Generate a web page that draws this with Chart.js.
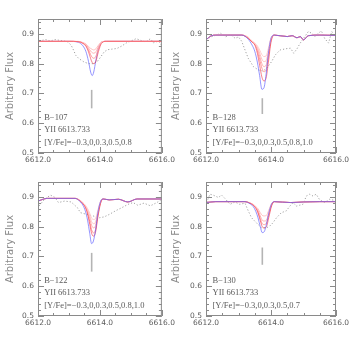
<!DOCTYPE html>
<html>
<head>
<meta charset="utf-8">
<script src="https://cdn.jsdelivr.net/npm/chart.js@4.4.1/dist/chart.umd.min.js"></script>
<style>
body { margin: 0; background: #fff; }
#wrap { position: relative; width: 354px; height: 354px; overflow: hidden; }
canvas { position: absolute; }
</style>
</head>
<body>
<div id="wrap">
<canvas id="p107" width="178" height="177" style="left:0px;top:0px"></canvas>
<canvas id="p128" width="188" height="177" style="left:166px;top:0px"></canvas>
<canvas id="p122" width="178" height="177" style="left:0px;top:163px"></canvas>
<canvas id="p130" width="188" height="177" style="left:166px;top:163px"></canvas>
</div>
<script>
// star names and abundances tried in each synthesis
const stars = ['B\u2212107', 'B\u2212128', 'B\u2212122', 'B\u2212130'];
const lineLabel = 'YII 6613.733';
const lineCenter = 6613.733;
const abund107 = ['\u22120.3', '0', '0.3', '0.5', '0.8'];
const abund128 = ['\u22120.3', '0', '0.3', '0.5', '0.8', '1.0'];
const abund122 = ['\u22120.3', '0', '0.3', '0.5', '0.8', '1.0'];
const abund130 = ['\u22120.3', '0', '0.3', '0.5', '0.7'];

// axis ticks
const xTicks = [6612, 6614, 6616];
const yTicks = [0.5, 0.6, 0.7, 0.8, 0.9];

// observed spectra
const obsWave107 = [6612.04, 6612.25, 6612.4, 6612.55, 6612.71, 6612.86, 6612.96, 6613.07, 6613.15, 6613.22, 6613.32, 6613.48, 6613.63, 6613.78, 6613.94, 6614.04, 6614.14, 6614.25, 6614.4, 6614.55, 6614.7, 6614.86, 6615.0, 6615.17, 6615.32, 6615.48, 6615.63, 6615.73, 6615.89, 6615.99];
const obsFlux107 = [0.876, 0.881, 0.876, 0.881, 0.878, 0.876, 0.873, 0.862, 0.845, 0.828, 0.817, 0.806, 0.800, 0.800, 0.810, 0.825, 0.840, 0.847, 0.849, 0.851, 0.859, 0.870, 0.876, 0.884, 0.878, 0.873, 0.884, 0.870, 0.876, 0.862];

const obsWave128 = [6612.0, 6612.15, 6612.3, 6612.45, 6612.6, 6612.75, 6612.9, 6613.0, 6613.1, 6613.2, 6613.3, 6613.46, 6613.61, 6613.75, 6613.87, 6614.02, 6614.13, 6614.28, 6614.45, 6614.6, 6614.7, 6614.8, 6614.9, 6615.0, 6615.15, 6615.25, 6615.35, 6615.45, 6615.55, 6615.65, 6615.77, 6615.87, 6615.97];
const obsFlux128 = [0.880, 0.890, 0.895, 0.902, 0.890, 0.898, 0.885, 0.890, 0.875, 0.846, 0.818, 0.790, 0.779, 0.775, 0.785, 0.807, 0.829, 0.846, 0.850, 0.852, 0.835, 0.850, 0.869, 0.885, 0.908, 0.902, 0.891, 0.902, 0.910, 0.885, 0.869, 0.908, 0.891];

const obsWave122 = [6612.04, 6612.19, 6612.4, 6612.55, 6612.66, 6612.86, 6613.07, 6613.27, 6613.37, 6613.58, 6613.78, 6613.99, 6614.14, 6614.3, 6614.5, 6614.71, 6614.91, 6615.07, 6615.22, 6615.42, 6615.63, 6615.84, 6615.99];
const obsFlux122 = [0.870, 0.890, 0.906, 0.898, 0.881, 0.886, 0.883, 0.864, 0.847, 0.841, 0.836, 0.830, 0.833, 0.841, 0.853, 0.864, 0.875, 0.881, 0.872, 0.879, 0.870, 0.881, 0.892];

const obsWave130 = [6612.02, 6612.12, 6612.22, 6612.38, 6612.48, 6612.58, 6612.74, 6612.89, 6613.04, 6613.2, 6613.3, 6613.4, 6613.55, 6613.71, 6613.86, 6613.96, 6614.06, 6614.17, 6614.32, 6614.47, 6614.58, 6614.68, 6614.78, 6614.88, 6614.98, 6615.09, 6615.19, 6615.29, 6615.39, 6615.5, 6615.65, 6615.8, 6615.96];
const obsFlux130 = [0.881, 0.909, 0.906, 0.898, 0.906, 0.895, 0.875, 0.883, 0.875, 0.879, 0.853, 0.830, 0.813, 0.796, 0.796, 0.802, 0.813, 0.830, 0.847, 0.853, 0.869, 0.881, 0.869, 0.872, 0.875, 0.903, 0.909, 0.903, 0.909, 0.890, 0.881, 0.892, 0.888];

// synthetic spectra: first blue (deepest), then red, then pinks (shallower)
const synWave107 = [6612.0, 6613.0, 6613.3, 6613.45, 6613.55, 6613.63, 6613.7, 6613.75, 6613.8, 6613.87, 6613.95, 6614.05, 6614.2, 6615.0, 6616.0];
const synth107 = [
    [0.875, 0.875, 0.872, 0.860, 0.840, 0.808, 0.772, 0.760, 0.772, 0.812, 0.852, 0.872, 0.875, 0.875, 0.875],
    [0.875, 0.875, 0.874, 0.868, 0.858, 0.840, 0.817, 0.804, 0.800, 0.808, 0.840, 0.868, 0.875, 0.875, 0.875],
    [0.875, 0.875, 0.874, 0.869, 0.861, 0.847, 0.830, 0.821, 0.818, 0.825, 0.850, 0.871, 0.875, 0.875, 0.875],
    [0.875, 0.875, 0.874, 0.870, 0.864, 0.853, 0.842, 0.837, 0.835, 0.840, 0.857, 0.872, 0.875, 0.875, 0.875],
    [0.875, 0.875, 0.875, 0.871, 0.866, 0.858, 0.851, 0.848, 0.846, 0.850, 0.862, 0.873, 0.875, 0.875, 0.875]
];

const synWave128 = [6612.0, 6612.15, 6612.3, 6613.1, 6613.3, 6613.42, 6613.5, 6613.58, 6613.65, 6613.72, 6613.78, 6613.85, 6613.92, 6614.0, 6614.1, 6614.5, 6614.65, 6614.8, 6614.9, 6615.0, 6615.15, 6615.5, 6616.0];
const synth128 = [
    [0.880, 0.893, 0.896, 0.896, 0.882, 0.862, 0.842, 0.805, 0.760, 0.714, 0.718, 0.765, 0.835, 0.885, 0.896, 0.891, 0.894, 0.887, 0.891, 0.880, 0.894, 0.896, 0.895],
    [0.880, 0.893, 0.896, 0.896, 0.885, 0.872, 0.863, 0.835, 0.795, 0.755, 0.742, 0.752, 0.805, 0.872, 0.896, 0.891, 0.894, 0.887, 0.891, 0.880, 0.894, 0.896, 0.895],
    [0.880, 0.893, 0.896, 0.896, 0.886, 0.873, 0.866, 0.845, 0.815, 0.785, 0.773, 0.778, 0.822, 0.878, 0.896, 0.891, 0.894, 0.887, 0.891, 0.880, 0.894, 0.896, 0.895],
    [0.880, 0.893, 0.896, 0.896, 0.887, 0.874, 0.867, 0.850, 0.826, 0.800, 0.790, 0.795, 0.832, 0.881, 0.896, 0.891, 0.894, 0.887, 0.891, 0.880, 0.894, 0.896, 0.895],
    [0.880, 0.893, 0.896, 0.896, 0.888, 0.875, 0.868, 0.855, 0.836, 0.815, 0.807, 0.810, 0.842, 0.884, 0.896, 0.891, 0.894, 0.887, 0.891, 0.880, 0.894, 0.896, 0.895],
    [0.880, 0.893, 0.896, 0.896, 0.889, 0.876, 0.869, 0.860, 0.846, 0.830, 0.824, 0.826, 0.852, 0.886, 0.896, 0.891, 0.894, 0.887, 0.891, 0.880, 0.894, 0.896, 0.895]
];

const synWave122 = [6612.0, 6612.3, 6613.2, 6613.35, 6613.45, 6613.53, 6613.6, 6613.67, 6613.73, 6613.79, 6613.86, 6613.93, 6614.02, 6614.1, 6614.3, 6614.6, 6614.9, 6615.2, 6616.0];
const synth122 = [
    [0.886, 0.895, 0.895, 0.885, 0.872, 0.852, 0.822, 0.778, 0.743, 0.752, 0.790, 0.845, 0.885, 0.893, 0.890, 0.892, 0.883, 0.893, 0.893],
    [0.886, 0.895, 0.895, 0.887, 0.877, 0.864, 0.843, 0.808, 0.778, 0.768, 0.782, 0.830, 0.878, 0.893, 0.890, 0.892, 0.883, 0.893, 0.893],
    [0.886, 0.895, 0.895, 0.888, 0.878, 0.866, 0.848, 0.818, 0.790, 0.779, 0.790, 0.836, 0.880, 0.893, 0.890, 0.892, 0.883, 0.893, 0.893],
    [0.886, 0.895, 0.895, 0.888, 0.879, 0.868, 0.853, 0.828, 0.805, 0.796, 0.804, 0.842, 0.882, 0.893, 0.890, 0.892, 0.883, 0.893, 0.893],
    [0.886, 0.895, 0.895, 0.889, 0.880, 0.870, 0.857, 0.837, 0.817, 0.810, 0.816, 0.848, 0.884, 0.893, 0.890, 0.892, 0.883, 0.893, 0.893],
    [0.886, 0.895, 0.895, 0.889, 0.881, 0.872, 0.861, 0.845, 0.829, 0.824, 0.828, 0.854, 0.886, 0.893, 0.890, 0.892, 0.883, 0.893, 0.893]
];

const synWave130 = [6612.0, 6612.3, 6613.2, 6613.35, 6613.45, 6613.53, 6613.6, 6613.67, 6613.73, 6613.79, 6613.86, 6613.93, 6614.02, 6614.1, 6614.6, 6615.0, 6615.5, 6616.0];
const synth130 = [
    [0.881, 0.884, 0.884, 0.877, 0.868, 0.852, 0.830, 0.800, 0.780, 0.783, 0.808, 0.845, 0.877, 0.884, 0.881, 0.883, 0.884, 0.884],
    [0.881, 0.884, 0.884, 0.879, 0.872, 0.862, 0.846, 0.820, 0.800, 0.796, 0.800, 0.830, 0.870, 0.884, 0.881, 0.883, 0.884, 0.884],
    [0.881, 0.884, 0.884, 0.879, 0.873, 0.864, 0.850, 0.828, 0.810, 0.807, 0.812, 0.838, 0.873, 0.884, 0.881, 0.883, 0.884, 0.884],
    [0.881, 0.884, 0.884, 0.880, 0.874, 0.866, 0.855, 0.836, 0.822, 0.819, 0.822, 0.845, 0.875, 0.884, 0.881, 0.883, 0.884, 0.884],
    [0.881, 0.884, 0.884, 0.880, 0.875, 0.868, 0.860, 0.847, 0.838, 0.836, 0.838, 0.855, 0.878, 0.884, 0.881, 0.883, 0.884, 0.884]
];

// line marker extent (flux units) for each panel
const markTop = [0.712, 0.684, 0.712, 0.730];
const markBottom = [0.650, 0.631, 0.649, 0.672];

const BLUE = 'rgba(90, 90, 255, 0.65)';
const RED = 'rgba(240, 30, 50, 0.55)';
const pinkColors = ['#ff9c9c', '#ffb0b0', '#ffc0c0', '#ffcccc'];
const AXIS_GREY = '#8a8a8a';
const TEXT_GREY = '#5a5a5a';

const toPoints = (xs, ys) => xs.map((x, i) => ({ x: x, y: ys[i] }));

// box with inward ticks on all four sides plus the little text block
const framePlugin = {
    id: 'frame',
    afterDraw(chart, args, opts) {
        const { ctx, chartArea: a, scales: { x, y } } = chart;
        ctx.save();
        ctx.strokeStyle = AXIS_GREY;
        ctx.lineWidth = 1;
        ctx.strokeRect(a.left + 0.5, a.top + 0.5, a.right - a.left - 1, a.bottom - a.top - 1);
        ctx.beginPath();
        // x: minor every 0.5, major every 2
        for (let i = 0; i <= 8; i++) {
            const px = Math.round(x.getPixelForValue(6612 + i * 0.5)) + 0.5;
            const len = i % 4 === 0 ? 6 : 3;
            ctx.moveTo(px, a.bottom); ctx.lineTo(px, a.bottom - len);
            ctx.moveTo(px, a.top); ctx.lineTo(px, a.top + len);
        }
        // y: minor every 0.02, major every 0.1
        for (let i = 0; i <= 22; i++) {
            const py = Math.round(y.getPixelForValue(0.5 + i * 0.02)) + 0.5;
            const len = i % 5 === 0 ? 6 : 3;
            ctx.moveTo(a.left, py); ctx.lineTo(a.left + len, py);
            ctx.moveTo(a.right, py); ctx.lineTo(a.right - len, py);
        }
        ctx.stroke();

        ctx.fillStyle = TEXT_GREY;
        ctx.font = '8.5px "Liberation Serif"';
        ctx.textBaseline = 'middle';
        ctx.textAlign = 'left';
        const tx = x.getPixelForValue(6612.2);
        opts.lines.forEach((t, i) => {
            ctx.fillText(t, tx, y.getPixelForValue(opts.levels[i]));
        });
        ctx.restore();
    }
};

const makePanel = (id, idx, synWave, synth, obsWave, obsFlux, abund, rightCol, blueOnTop) => {
    const datasets = [];
    // observed spectrum, dotted grey
    datasets.push({
        data: toPoints(obsWave, obsFlux),
        borderColor: '#a0a0a0',
        borderWidth: 1,
        borderDash: [1.2, 2],
        pointRadius: 0,
        tension: 0,
        order: 10
    });
    const synthSets = synth.map((ys, k) => ({
        data: toPoints(synWave, ys),
        borderColor: k === 0 ? BLUE : (k === 1 ? RED : pinkColors[k - 2]),
        borderWidth: 1,
        pointRadius: 0,
        cubicInterpolationMode: 'monotone',
        order: k === 0 ? (blueOnTop ? 0 : 8) : (k === 1 ? 1 : 2 + (synth.length - k))
    }));
    datasets.push(...synthSets);
    // line position marker
    datasets.push({
        data: [{ x: lineCenter, y: markBottom[idx] }, { x: lineCenter, y: markTop[idx] }],
        borderColor: '#b4b4b4',
        borderWidth: 1.6,
        pointRadius: 0,
        order: 9
    });

    new Chart(document.getElementById(id), {
        type: 'line',
        data: { datasets: datasets },
        plugins: [framePlugin],
        options: {
            responsive: false,
            animation: false,
            devicePixelRatio: 1,
            layout: { padding: { top: 19, right: rightCol ? 18 : 10, left: 0, bottom: 0 } },
            plugins: {
                legend: { display: false },
                tooltip: { enabled: false },
                frame: {
                    lines: [stars[idx], lineLabel, '[Y/Fe]=' + abund.join(',')],
                    levels: [0.619, 0.579, 0.535]
                }
            },
            scales: {
                x: {
                    type: 'linear',
                    min: 6612,
                    max: 6616,
                    afterBuildTicks: (s) => { s.ticks = xTicks.map(v => ({ value: v })); },
                    afterFit: (s) => { s.height = 24; },
                    grid: { display: false, drawTicks: false },
                    border: { display: false },
                    ticks: {
                        padding: 3,
                        color: TEXT_GREY,
                        font: { family: 'DejaVu Sans', size: 7.5 },
                        maxRotation: 0,
                        callback: (v) => Number(v).toFixed(1)
                    }
                },
                y: {
                    min: 0.5,
                    max: 0.95,
                    afterBuildTicks: (s) => { s.ticks = yTicks.map(v => ({ value: v })); },
                    afterFit: (s) => { s.width = rightCol ? 40 : 38; },
                    grid: { display: false, drawTicks: false },
                    border: { display: false },
                    ticks: {
                        padding: 4,
                        color: TEXT_GREY,
                        font: { family: 'DejaVu Sans', size: 7.5 },
                        callback: (v) => Number(v).toFixed(1)
                    },
                    title: {
                        display: true,
                        text: 'Arbitrary Flux',
                        color: '#8a8a8a',
                        font: { family: 'DejaVu Sans', size: 10 },
                        padding: { top: 4, bottom: 4 }
                    }
                }
            }
        }
    });
};

makePanel('p107', 0, synWave107, synth107, obsWave107, obsFlux107, abund107, false, false);
makePanel('p128', 1, synWave128, synth128, obsWave128, obsFlux128, abund128, true, true);
makePanel('p122', 2, synWave122, synth122, obsWave122, obsFlux122, abund122, false, true);
makePanel('p130', 3, synWave130, synth130, obsWave130, obsFlux130, abund130, true, true);
</script>
</body>
</html>
